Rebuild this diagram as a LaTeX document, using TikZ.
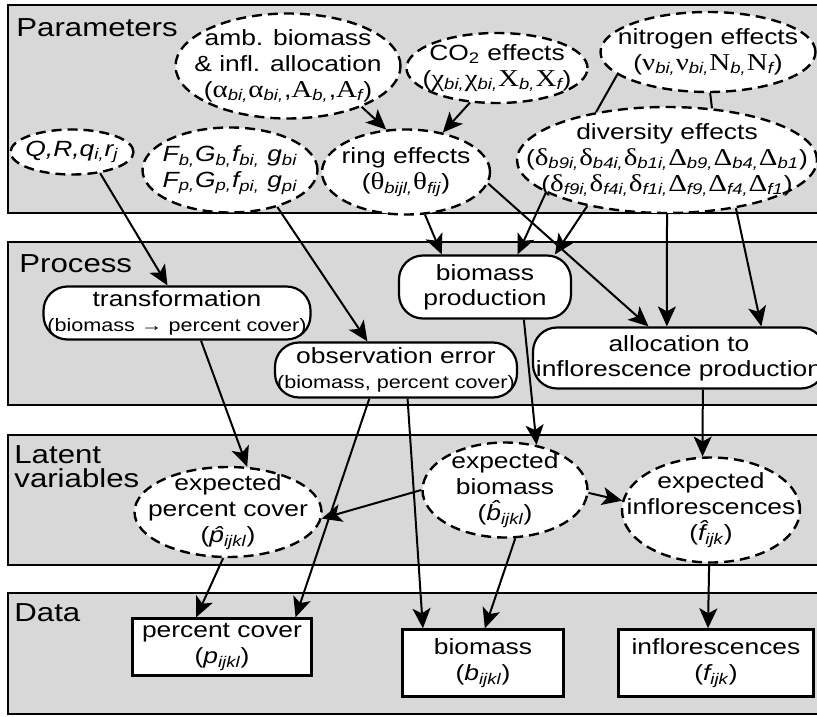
\documentclass[tikz,border=0pt]{standalone}
\usepackage{fontspec}
\setmainfont{Liberation Sans}[FakeStretch=1.2]
\newfontfamily\grk{Liberation Serif}[FakeStretch=1.2,Scale=1.1]
\usepackage{xcolor}
\definecolor{panelgray}{RGB}{216,216,216}
\usepackage{tikz}
\usetikzlibrary{arrows.meta,shapes.geometric}
\newcommand\lo[1]{\textsubscript{\itshape #1}}
\newcommand\gk[1]{{\grk #1}}

\begin{document}
\begin{tikzpicture}[x=0.5pt,y=-0.5pt,
    panel/.style={draw=black,line width=1.4pt,fill=panelgray},
    paneltitle/.style={anchor=north west,inner sep=0pt,align=left,font=\fontsize{13}{12}\selectfont},
    param/.style={ellipse,draw=black,line width=1.2pt,dash pattern=on 5pt off 3pt,fill=white,
                  inner xsep=-20pt,inner ysep=-8pt,align=center,font=\fontsize{11}{13}\selectfont},
    process/.style={rectangle,rounded corners=12pt,draw=black,line width=1.1pt,fill=white,
                    inner sep=0pt,align=center,font=\fontsize{11}{12.5}\selectfont},
    datum/.style={rectangle,draw=black,line width=1.2pt,fill=white,
                  inner sep=0pt,align=center,font=\fontsize{11}{13}\selectfont},
    link/.style={line width=1pt,-{Stealth[length=10pt,width=9pt,inset=2.5pt]}},
    plainlink/.style={line width=1pt}]
  \useasboundingbox (0,0) rectangle (817,716);

  \draw[panel] (8,5) rectangle (830,213);
  \draw[panel] (8,242) rectangle (830,405);
  \draw[panel] (8,435) rectangle (830,565);
  \draw[panel] (8,593) rectangle (830,714);

  \node[paneltitle] (ttlparam) at (16,18) {Parameters};
  \node[paneltitle] (ttlproc) at (19,254) {Process};
  \node[paneltitle] (ttllat) at (14,445) {Latent\\variables};
  \node[paneltitle] (ttldata) at (14,603) {Data};

  \node[param,minimum width=112.5pt,minimum height=52.5pt] (amb) at (288,66)
    {amb. biomass\\\& infl. allocation\\(\gk{α}\lo{bi,}\gk{α}\lo{bi,},\gk{A}\lo{b,},\gk{A}\lo{f})};
  \node[param,minimum width=90.5pt,minimum height=35pt] (cotwo) at (497,68)
    {CO\textsubscript{2} effects\\(\gk{χ}\lo{bi,}\gk{χ}\lo{bi,}\gk{X}\lo{b,}\gk{X}\lo{f})};
  \node[param,minimum width=107.5pt,minimum height=40pt] (nitro) at (708,52)
    {nitrogen effects\\(\gk{ν}\lo{bi,}\gk{ν}\lo{bi,}\gk{N}\lo{b,}\gk{N}\lo{f})};
  \node[param,minimum width=150pt,minimum height=53pt] (divers) at (667,160)
    {diversity effects\\(\gk{δ}\lo{b9i,}\gk{δ}\lo{b4i,}\gk{δ}\lo{b1i,}\gk{Δ}\lo{b9,}\gk{Δ}\lo{b4,}\gk{Δ}\lo{b1})\\
     (\gk{δ}\lo{f9i,}\gk{δ}\lo{f4i,}\gk{δ}\lo{f1i,}\gk{Δ}\lo{f9,}\gk{Δ}\lo{f4,}\gk{Δ}\lo{f1})};
  \node[param,minimum width=61.5pt,minimum height=22.5pt] (qr) at (72,152)
    {\itshape Q,R,q\lo{i,}r\lo{j}};
  \node[param,minimum width=87.5pt,minimum height=42.5pt] (fg) at (230,170)
    {\itshape F\lo{b,}G\lo{b,}f\lo{bi,} g\lo{bi}\\\itshape F\lo{p,}G\lo{p,}f\lo{pi,} g\lo{pi}};
  \node[param,minimum width=84pt,minimum height=42.5pt] (ring) at (406,172)
    {ring effects\\(\gk{θ}\lo{bijl,}\gk{θ}\lo{fij})};

  \node[process,minimum width=133.5pt,minimum height=26.5pt] (transf) at (177,313)
    {transformation\\{\fontsize{9}{10}\selectfont(biomass → percent cover)}};
  \node[process,minimum width=121pt,minimum height=27.5pt] (obserr) at (396,370)
    {observation error\\{\fontsize{9}{10}\selectfont(biomass, percent cover)}};
  \node[process,minimum width=86pt,minimum height=31.5pt] (bioprod) at (485,287)
    {biomass\\production};
  \node[process,minimum width=146pt,minimum height=30.5pt] (alloc) at (679,358)
    {allocation to\\inflorescence production};

  \node[param,minimum width=93.5pt,minimum height=45pt] (expcov) at (228,512)
    {expected\\percent cover\\({\itshape\^{p}}\lo{ijkl})};
  \node[param,minimum width=82.5pt,minimum height=47.5pt] (expbio) at (505,490)
    {expected\\biomass\\({\itshape\^{b}}\lo{ijkl})};
  \node[param,minimum width=89pt,minimum height=52.5pt] (expinf) at (711,510)
    {expected\\inflorescences\\({\itshape\^{f}}\lo{ijk})};

  \node[datum,minimum width=89.5pt,minimum height=28.5pt] (datcov) at (222,647)
    {percent cover\\({\itshape p}\lo{ijkl})};
  \node[datum,minimum width=80.5pt,minimum height=33.5pt] (datbio) at (483,663)
    {biomass\\({\itshape b}\lo{ijkl})};
  \node[datum,minimum width=97.5pt,minimum height=33.5pt] (datinf) at (716,663)
    {inflorescences\\({\itshape f}\lo{ijk})};

  \draw[link] (amb.-29) -- (ring.115);
  \draw[link] (cotwo.-128) -- (ring.47);
  \draw[plainlink] (nitro.-166) -- (divers.146);
  \draw[plainlink] (nitro.-87) -- (divers.49);
  \draw[link] (qr.-37) -- (transf.109);
  \draw[link] (fg.-38) -- (obserr.135);
  \draw[link] (ring.-66) -- (bioprod.143);
  \draw[link] (ring.-8) -- (alloc.134);
  \draw[link] (divers.-165) -- (bioprod.45);
  \draw[link] (divers.-150) -- (bioprod.25);
  \draw[link] (divers.-90) -- (alloc.111);
  \draw[link] (divers.-35) -- (alloc.21);
  \draw[link] (bioprod.-40) -- (expbio.55);
  \draw[link] (alloc.-53) -- (expinf.99);
  \draw[link] (transf.-49) -- (expcov.67);
  \draw[link] (obserr.-133) -- (datcov.22);
  \draw[link] (obserr.-68) -- (datbio.150);
  \draw[link] (expbio.west) -- (expcov.-4);
  \draw[link] (expbio.-2) -- (expinf.174);
  \draw[link] (expcov.-96) -- (datcov.131);
  \draw[link] (expbio.-78) -- (datbio.87);
  \draw[link] (expinf.-92) -- (datinf.103);
\end{tikzpicture}
\end{document}
